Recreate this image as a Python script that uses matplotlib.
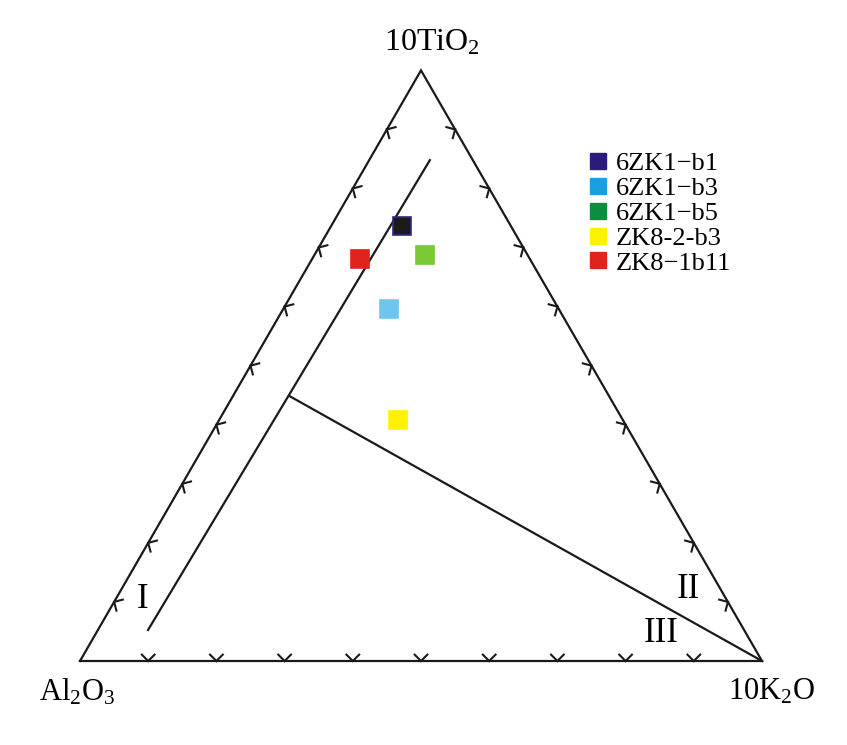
import numpy as np
import matplotlib
matplotlib.use("Agg")
from matplotlib import pyplot as plt
from matplotlib.lines import Line2D

plt.rcParams['font.family'] = ['Liberation Serif', 'DejaVu Serif']
plt.rcParams['mathtext.fontset'] = 'custom'
plt.rcParams['mathtext.rm'] = 'Liberation Serif'
plt.rcParams['mathtext.it'] = 'Liberation Serif:italic'

# sample compositions (fractions of 10TiO2, 10K2O, Al2O3)
samples = ['6ZK1\u2212b1', '6ZK1\u2212b3', '6ZK1\u2212b5', 'ZK8-2-b3', 'ZK8\u22121b11']
tio2 = [0.737, 0.596, 0.687, 0.408, 0.681]
k2o = [0.104, 0.155, 0.162, 0.262, 0.070]
legend_colors = ['#2b1c7c', '#1a9fe0', '#0a8f3e', '#fff200', '#e0231c']
point_colors = ['#1c1a1a', '#6ec6ee', '#79c834', '#fff200', '#e0231c']
point_edges = ['#2b2a8a', '#6ec6ee', '#79c834', '#fff200', '#e0231c']

# field boundaries (TiO2, K2O fractions)
line_i_tio2 = [0.0525, 0.848]
line_i_k2o = [0.0735, 0.089]
line_ii_tio2 = [0.449, 0.0]
line_ii_k2o = [0.082, 1.0]

ticks = np.arange(1, 10) / 10
H = np.sqrt(3) / 2


def to_xy(t, k):
    t = np.asarray(t, dtype=float)
    k = np.asarray(k, dtype=float)
    return k + t / 2, t * H


fig = plt.figure(figsize=(8.47, 7.45), dpi=100)
ax = fig.add_axes([0, 0, 1, 1])
ax.set_xlim(-80 / 682, 767 / 682)
ax.set_ylim(-84 / 682, 661 / 682)
ax.axis('off')

# triangle outline
ax.plot([0, 1, 0.5, 0], [0, 0, H, 0], color='#1a1a1a', lw=1.6, solid_joinstyle='miter')

# chevron ticks on each edge, opening toward the interior
arm = 9 / 682
spread = np.radians(45)


def chevron(px, py, nx, ny):
    ang = np.arctan2(ny, nx)
    for s in (-1, 1):
        a = ang + s * spread
        ax.plot([px, px + arm * np.cos(a)], [py, py + arm * np.sin(a)],
                color='#1a1a1a', lw=1.5)


for f in ticks:
    chevron(f, 0, 0, 1)
    chevron(0.5 * f, H * f, H, -0.5)
    chevron(1 - 0.5 * f, H * f, -H, -0.5)

# boundary lines
x1, y1 = to_xy(line_i_tio2, line_i_k2o)
ax.plot(x1, y1, color='#1a1a1a', lw=1.6)
x2, y2 = to_xy(line_ii_tio2, line_ii_k2o)
ax.plot(x2, y2, color='#1a1a1a', lw=1.6)

# samples
px, py = to_xy(tio2, k2o)
for i in range(len(samples)):
    ax.plot(px[i], py[i], marker='s', ms=13.5, color=point_colors[i],
            mec=point_edges[i], mew=1.2, ls='none')

# vertex labels
ax.text(0.5 + 11 / 682, H + 28 / 682, '10TiO$_2$', ha='center', va='center', fontsize=23)
ax.text(-3 / 682, -31 / 682, 'Al$_2$O$_3$', ha='center', va='center', fontsize=22)
ax.text(1 + 9 / 682, -31 / 682, '10K$_2$O', ha='center', va='center', fontsize=22)

# field labels
ax.text(63 / 682, 61 / 682, 'I', ha='center', va='center', fontsize=25)
ax.text(608 / 682, 72 / 682, 'II', ha='center', va='center', fontsize=25)
ax.text(581 / 682, 27 / 682, 'III', ha='center', va='center', fontsize=25)

handles = [Line2D([], [], marker='s', ls='none', ms=11.5, color=c, mec=c)
           for c in legend_colors]
leg = ax.legend(handles, samples, loc='upper left',
                bbox_to_anchor=(589 / 847, 1 - 152 / 745), bbox_transform=fig.transFigure,
                frameon=False, fontsize=19, handlelength=0.65, handletextpad=0.35,
                labelspacing=0.05, borderpad=0, borderaxespad=0)

fig.savefig('out.png', dpi=100)
